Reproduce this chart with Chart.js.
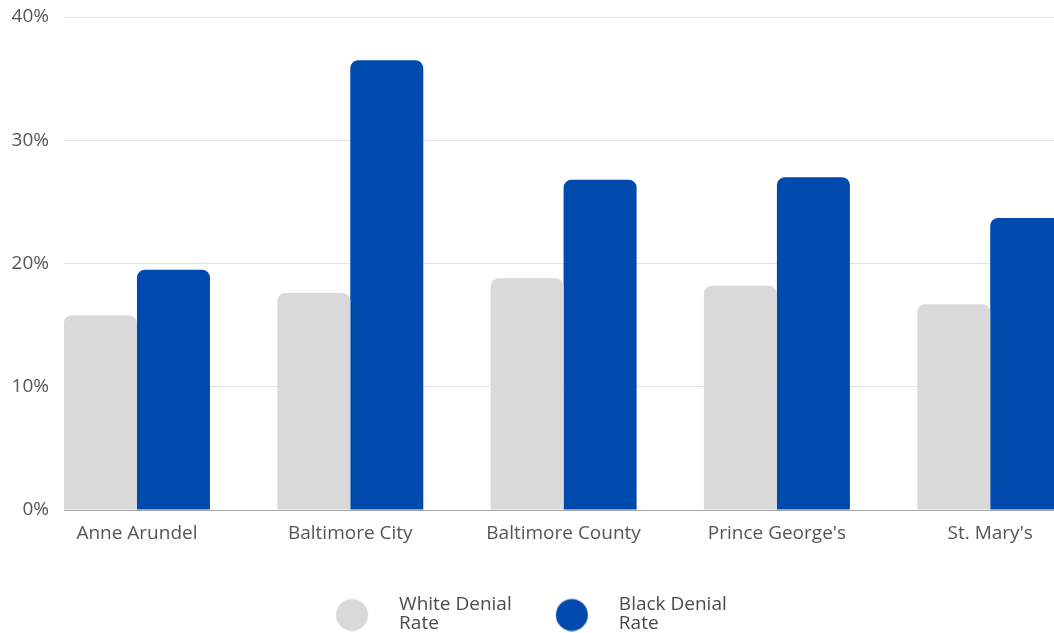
<!DOCTYPE html>
<html>
<head>
<meta charset="utf-8">
<script src="https://cdn.jsdelivr.net/npm/chart.js@4"></script>
<style>
  html, body { margin: 0; padding: 0; background: #fff; overflow: hidden; }
  #chart { display: block; }
</style>
</head>
<body>
<canvas id="chart" width="1054" height="633"></canvas>
<script>
const counties = ['Anne Arundel', 'Baltimore City', 'Baltimore County', "Prince George's", "St. Mary's"];
const whiteRates = [15.8, 17.6, 18.8, 18.2, 16.7];
const blackRates = [19.5, 36.5, 26.8, 27.0, 23.7];
const seriesLabels = [['White Denial', 'Rate'], ['Black Denial', 'Rate']];
const yTicks = [0, 10, 20, 30, 40];

const grey = '#d9d9d9';
const blue = '#004aad';

// legend marker: circle drawn off-centre so it sits left of the two-line label
function dot(color) {
    const c = document.createElement('canvas');
    c.width = 88;
    c.height = 54;
    const g = c.getContext('2d');
    g.fillStyle = color;
    g.beginPath();
    g.arc(16, 37.5, 16, 0, Math.PI * 2);
    g.fill();
    return c;
}
const dots = [dot(grey), dot(blue)];

// legend box is sized for one text line, let it reach the canvas bottom so "Rate" isn't clipped
const legendRoom = {
    id: 'legendRoom',
    afterLayout(chart) {
        const lg = chart.legend;
        lg.bottom = chart.height;
        lg.height = lg.bottom - lg.top;
    }
};

Chart.defaults.font.family = "'Open Sans', sans-serif";
Chart.defaults.color = '#555';

const toPoints = (arr) => arr.map((v, i) => ({ x: i, y: v }));

// plot runs to the right edge of the window (last bar is cut off there)
var ctx = document.getElementById('chart').getContext('2d');
new Chart(ctx, {
    type: 'bar',
    plugins: [legendRoom],
    data: {
        datasets: [{
            label: seriesLabels[0],
            data: toPoints(whiteRates),
            backgroundColor: grey,
            borderRadius: 8,
            borderSkipped: 'start'
        }, {
            label: seriesLabels[1],
            data: toPoints(blackRates),
            backgroundColor: blue,
            borderRadius: 8,
            borderSkipped: 'start'
        }]
    },
    options: {
        responsive: false,
        animation: false,
        categoryPercentage: 0.6845,
        barPercentage: 1,
        layout: {
            padding: { top: 0, right: -88, bottom: 9, left: 0 }
        },
        scales: {
            x: {
                type: 'linear',
                min: -0.342,
                max: 4.299,
                offset: false,
                afterFit: (scale) => { scale.height = 51; },
                grid: { display: false },
                border: { display: true, color: '#a6a6a6' },
                ticks: {
                    stepSize: 1,
                    includeBounds: false,
                    autoSkip: false,
                    maxRotation: 0,
                    padding: 4,
                    font: { size: 19 },
                    color: '#555',
                    callback: (v) => counties[v] ?? ''
                }
            },
            y: {
                min: yTicks[0],
                max: yTicks[yTicks.length - 1],
                afterFit: (scale) => {
                    scale.width = 64;
                    scale.paddingTop = 17;
                },
                grid: { color: '#e2e2e2', drawTicks: false },
                border: { display: false },
                ticks: {
                    stepSize: 10,
                    padding: 15,
                    font: { size: 19 },
                    color: '#555',
                    callback: (v) => v + '%'
                }
            }
        },
        plugins: {
            tooltip: { enabled: false },
            legend: {
                position: 'bottom',
                labels: {
                    usePointStyle: true,
                    padding: 34,
                    color: '#4a4a4a',
                    font: { size: 19, lineHeight: 1.0 },
                    generateLabels: (chart) => {
                        const items = Chart.defaults.plugins.legend.labels.generateLabels(chart);
                        items.forEach((item, i) => { item.pointStyle = dots[i]; });
                        return items;
                    }
                }
            }
        }
    }
});
</script>
</body>
</html>
